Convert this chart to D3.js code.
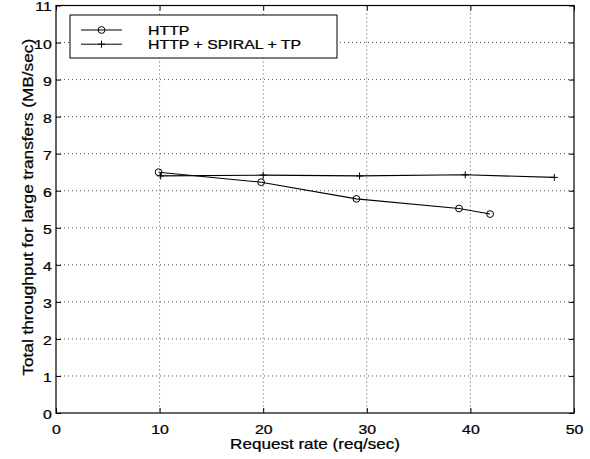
<!DOCTYPE html>
<html>
<head>
<meta charset="utf-8">
<script src="https://cdn.jsdelivr.net/npm/d3@7"></script>
<style>
  html, body { margin: 0; padding: 0; background: #fff; }
  svg { display: block; }
  text { font-family: Arial, "Liberation Sans", Helvetica, sans-serif; fill: #000; }
</style>
</head>
<body>
<div id="chart"></div>
<script>
// data
const httpRate = [9.9, 19.8, 29.0, 38.9, 41.9]
const httpThroughput = [6.5, 6.23, 5.78, 5.52, 5.37]
const spiralRate = [10.1, 20.0, 29.3, 39.5, 48.1]
const spiralThroughput = [6.4, 6.42, 6.4, 6.43, 6.36]

const xTicks = [0, 10, 20, 30, 40, 50]
const yTicks = [0, 1, 2, 3, 4, 5, 6, 7, 8, 9, 10, 11]
const seriesNames = ['HTTP', 'HTTP + SPIRAL + TP']

const width = 590, height = 459
const margin = { top: 5.5, right: 16, bottom: 46, left: 56 }
const SX = 1.22 // the original fonts are drawn a bit wide

const svg = d3.select('#chart').append('svg')
  .attr('width', width)
  .attr('height', height)

const x = d3.scaleLinear().domain([0, 50]).range([margin.left, width - margin.right])
const y = d3.scaleLinear().domain([0, 11]).range([height - margin.bottom, margin.top])

const x0 = x.range()[0], x1 = x.range()[1]
const y0 = y.range()[0], y1 = y.range()[1]

// dotted grid
svg.append('g')
  .selectAll('line')
  .data(xTicks.slice(1, -1))
  .join('line')
  .attr('x1', d => x(d)).attr('x2', d => x(d))
  .attr('y1', y1).attr('y2', y0)
  .attr('stroke', '#555')
  .attr('stroke-dasharray', '1,3')

svg.append('g')
  .selectAll('line')
  .data(yTicks.slice(1, -1))
  .join('line')
  .attr('x1', x0).attr('x2', x1)
  .attr('y1', d => y(d)).attr('y2', d => y(d))
  .attr('stroke', '#555')
  .attr('stroke-dasharray', '1,3')

// axes, ticks pointing inwards on all four sides
svg.append('g')
  .attr('transform', `translate(0,${y0})`)
  .call(d3.axisBottom(x).tickValues(xTicks).tickSizeInner(-5).tickSizeOuter(0).tickPadding(12))
svg.append('g')
  .attr('class', 'yaxis')
  .attr('transform', `translate(${x0},0)`)
  .call(d3.axisLeft(y).tickValues(yTicks).tickSizeInner(-5).tickSizeOuter(0).tickPadding(3.5))
svg.append('g')
  .attr('transform', `translate(0,${y1})`)
  .call(d3.axisTop(x).tickValues(xTicks).tickSizeInner(-5).tickSizeOuter(0).tickFormat(''))
svg.append('g')
  .attr('transform', `translate(${x1},0)`)
  .call(d3.axisRight(y).tickValues(yTicks).tickSizeInner(-5).tickSizeOuter(0).tickFormat(''))

svg.selectAll('.domain').remove()
svg.selectAll('.tick line').attr('stroke', '#000')
svg.selectAll('.tick text')
  .attr('font-size', 13)
  .attr('font-family', 'Arial, "Liberation Sans", sans-serif')
  .attr('fill', '#000')
  .attr('stroke', '#000')
  .attr('stroke-width', 0.25)
  .attr('transform', `scale(${SX},1)`)
// nudge the y labels down a hair so "11" stays inside the picture
svg.selectAll('.yaxis .tick text').attr('dy', '0.42em')

// frame
svg.append('rect')
  .attr('x', x0).attr('y', y1)
  .attr('width', x1 - x0).attr('height', y0 - y1)
  .attr('fill', 'none')
  .attr('stroke', '#000')
  .attr('stroke-width', 1.2)

// axis labels
svg.append('text')
  .attr('transform', `translate(${(x0 + x1) / 2},${y0 + 31}) scale(${SX},1)`)
  .attr('text-anchor', 'middle')
  .attr('dy', '0.35em')
  .attr('font-size', 14)
  .attr('stroke', '#000').attr('stroke-width', 0.25)
  .text('Request rate (req/sec)')

svg.append('text')
  .attr('transform', `translate(28.5,${(y0 + y1) / 2 - 2}) rotate(-90) scale(1.23,1)`)
  .attr('text-anchor', 'middle')
  .attr('dy', '0.35em')
  .attr('font-size', 14)
  .attr('stroke', '#000').attr('stroke-width', 0.25)
  .text('Total throughput for large transfers (MB/sec)')

// series
const line = d3.line().x(d => x(d[0])).y(d => y(d[1]))
const httpPts = d3.zip(httpRate, httpThroughput)
const spiralPts = d3.zip(spiralRate, spiralThroughput)

svg.append('path').datum(spiralPts)
  .attr('d', line).attr('fill', 'none').attr('stroke', '#000').attr('stroke-width', 1.1)
svg.append('path').datum(httpPts)
  .attr('d', line).attr('fill', 'none').attr('stroke', '#000').attr('stroke-width', 1.1)

function plusMark(g, cx, cy) {
  g.append('path')
    .attr('d', `M${cx - 3.5},${cy}H${cx + 3.5}M${cx},${cy - 3.5}V${cy + 3.5}`)
    .attr('stroke', '#000').attr('stroke-width', 1)
}
function circleMark(g, cx, cy) {
  g.append('circle')
    .attr('cx', cx).attr('cy', cy).attr('r', 3.4)
    .attr('fill', 'none').attr('stroke', '#000').attr('stroke-width', 1)
}

const marks = svg.append('g')
spiralPts.forEach(d => plusMark(marks, x(d[0]), y(d[1])))
httpPts.forEach(d => circleMark(marks, x(d[0]), y(d[1])))

// legend
const lg = svg.append('g')
lg.append('rect')
  .attr('x', 70).attr('y', 15).attr('width', 267).attr('height', 43)
  .attr('fill', '#fff').attr('stroke', '#000').attr('stroke-width', 1)

seriesNames.forEach((name, i) => {
  const ly = 30 + i * 14.2
  lg.append('line')
    .attr('x1', 81).attr('x2', 122).attr('y1', ly).attr('y2', ly)
    .attr('stroke', '#000').attr('stroke-width', 1)
  if (i === 0) circleMark(lg, 101.5, ly)
  else plusMark(lg, 101.5, ly)
  lg.append('text')
    .attr('transform', `translate(148,${ly}) scale(${SX},1)`)
    .attr('dy', '0.36em')
    .attr('font-size', 13)
    .attr('stroke', '#000').attr('stroke-width', 0.25)
    .text(name)
})
</script>
</body>
</html>
